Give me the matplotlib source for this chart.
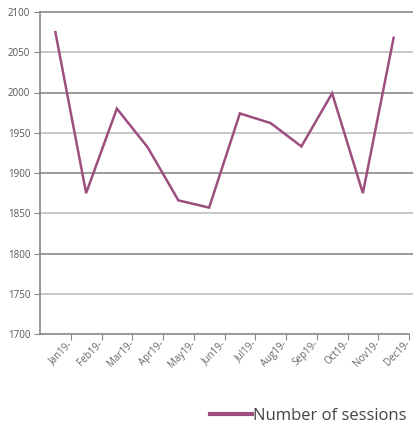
import matplotlib
matplotlib.use("Agg")
import matplotlib.pyplot as plt
from matplotlib.lines import Line2D

plt.rcParams['font.family'] = ['Open Sans', 'DejaVu Sans']

months = ["Jan19-", "Feb19-", "Mar19-", "Apr19-", "May19-", "Jun19-",
          "Jul19-", "Aug19-", "Sep19-", "Oct19-", "Nov19-", "Dec19-"]
sessions = [2075, 1875, 1980, 1932, 1866, 1857, 1974, 1962, 1933, 1999, 1875, 2068]
yticks = [1700, 1750, 1800, 1850, 1900, 1950, 2000, 2050, 2100]

color = "#9c4f7f"
fig = plt.figure(figsize=(4.13, 4.30), dpi=100)
ax = fig.add_axes([40/413, 1-334/430, 369/413, (334-12)/430])

x = list(range(len(months)))
ax.plot(x, sessions, color=color, lw=1.8, solid_joinstyle='miter', zorder=3)

ax.set_xlim(-0.5, len(months)-0.5)
ax.set_ylim(1700, 2100)
ax.set_yticks(yticks)
ax.set_yticklabels([str(v) for v in yticks], fontsize=7, color="#555555")
for i, v in enumerate(yticks):
    if v == 1700:
        continue
    ax.axhline(v, color="#8a8a8a" if i % 2 == 0 else "#bdbdbd", lw=1.2, zorder=1,
               xmax=1.01, clip_on=False)

ax.set_xticks([i + 0.5 for i in x])
ax.set_xticklabels(months, rotation=45, ha='right', va='center', rotation_mode='anchor',
                   fontsize=7, color="#666666")
ax.tick_params(axis='x', length=4, color="#888888", pad=2)
ax.tick_params(axis='y', length=4, color="#888888", pad=3)
for s in ['top', 'right']:
    ax.spines[s].set_visible(False)
for s in ['left', 'bottom']:
    ax.spines[s].set_color("#888888")
    ax.spines[s].set_linewidth(1.2)

handle = Line2D([], [], color=color, lw=3.0)
fig.legend([handle], ["Number of sessions"], loc='center right', bbox_to_anchor=(0.985, 1-416/430),
           frameon=False, fontsize=12, handlelength=2.5, handletextpad=0.1, labelcolor="#444444",
           borderpad=0, borderaxespad=0)

fig.savefig("out.png", dpi=100)
